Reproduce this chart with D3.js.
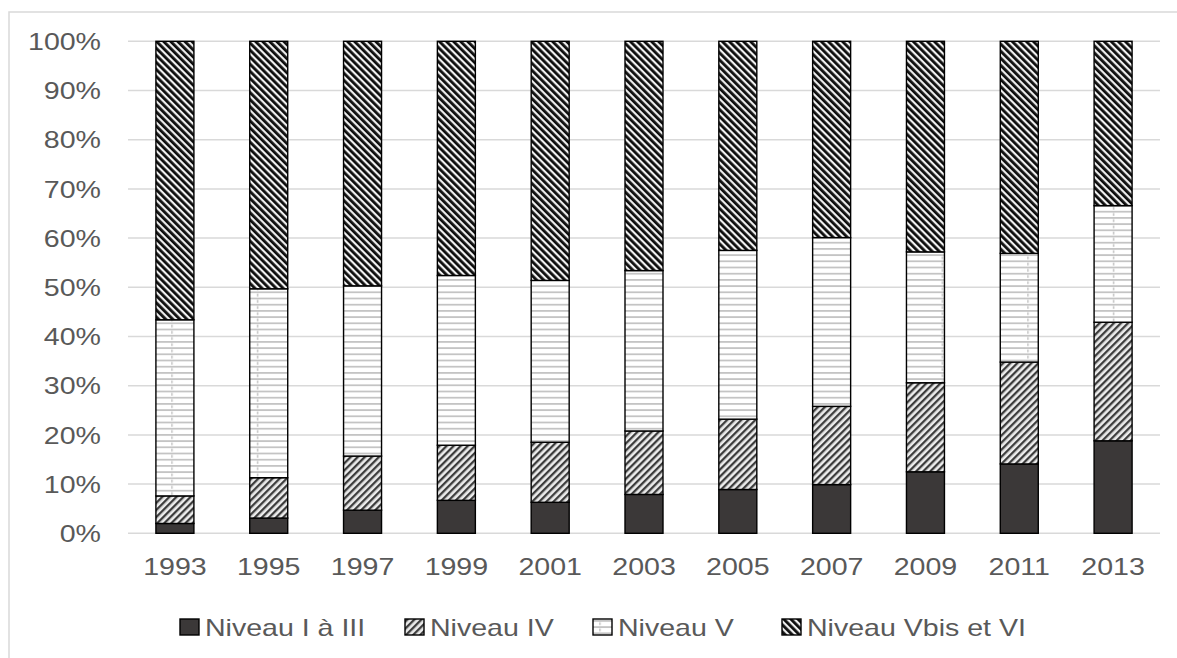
<!DOCTYPE html>
<html>
<head>
<meta charset="utf-8">
<script src="https://cdn.jsdelivr.net/npm/d3@7"></script>
<style>
  body { margin: 0; background: #fff; }
  text { font-family: Arial, "Liberation Sans", sans-serif; fill: #595959; }
</style>
</head>
<body>
<svg id="chart" width="1177" height="658"></svg>
<script>
// data (% of each year)
const years = ["1993", "1995", "1997", "1999", "2001", "2003", "2005", "2007", "2009", "2011", "2013"];
const niveauI_III = [2.0, 3.1, 4.7, 6.7, 6.3, 7.9, 8.9, 9.9, 12.5, 14.1, 18.8];
const niveauIV = [5.6, 8.2, 11.0, 11.2, 12.2, 12.9, 14.3, 15.9, 18.1, 20.7, 24.1];
const niveauV = [35.8, 38.4, 34.6, 34.5, 32.9, 32.6, 34.3, 34.3, 26.6, 22.1, 23.7];
const niveauVbisVI = [56.6, 50.3, 49.7, 47.6, 48.6, 46.6, 42.5, 39.9, 42.8, 43.1, 33.4];
const seriesNames = ["Niveau I à III", "Niveau IV", "Niveau V", "Niveau Vbis et VI"];
const yTicks = [0, 10, 20, 30, 40, 50, 60, 70, 80, 90, 100];

const svg = d3.select('#chart');
const stretch = 1.19; // the picture's text is a bit wider than tall

const keys = ["a", "b", "c", "d"];
const rows = years.map((y, i) => ({
    year: y, a: niveauI_III[i], b: niveauIV[i], c: niveauV[i], d: niveauVbisVI[i]
}));
const stacked = d3.stack().keys(keys)(rows);

const x = d3.scaleBand().domain(years).range([128, 1160])
    .paddingInner(0.595).paddingOuter(0.2975);
const y = d3.scaleLinear().domain([0, 100]).range([533.3, 41.3]);

// patterns
const defs = svg.append('defs');

const pIV = defs.append('pattern').attr('id', 'pIV')
    .attr('patternUnits', 'userSpaceOnUse')
    .attr('width', 5).attr('height', 5)
    .attr('patternTransform', 'rotate(45)');
pIV.append('rect').attr('width', 5).attr('height', 5).attr('fill', '#ececec');
pIV.append('rect').attr('width', 2.3).attr('height', 5).attr('fill', '#3c3c3c');

const pVI = defs.append('pattern').attr('id', 'pVI')
    .attr('patternUnits', 'userSpaceOnUse')
    .attr('width', 5).attr('height', 5)
    .attr('patternTransform', 'rotate(-45)');
pVI.append('rect').attr('width', 5).attr('height', 5).attr('fill', '#f0f0f0');
pVI.append('rect').attr('width', 2.8).attr('height', 5).attr('fill', '#0d0d0d');

const pV = defs.append('pattern').attr('id', 'pV')
    .attr('patternUnits', 'userSpaceOnUse')
    .attr('x', 0).attr('y', 0)
    .attr('width', 85.6).attr('height', 6.2);
pV.append('rect').attr('width', 85.6).attr('height', 6.2).attr('fill', '#fff');
pV.append('rect').attr('y', 0).attr('width', 85.6).attr('height', 1.8).attr('fill', '#c4c4c4');
pV.append('rect').attr('x', 0).attr('y', 2.3).attr('width', 1.5).attr('height', 2.8).attr('fill', '#c4c4c4');

const fills = ['#3b3838', 'url(#pIV)', 'url(#pV)', 'url(#pVI)'];

// frame
svg.append('path')
    .attr('d', 'M9,658 V12 H1177')
    .attr('fill', 'none')
    .attr('stroke', '#d9d9d9')
    .attr('stroke-width', 1.5);

// gridlines
svg.append('g')
    .selectAll('line')
    .data(yTicks)
    .enter()
    .append('line')
    .attr('x1', 128).attr('x2', 1160)
    .attr('y1', d => y(d)).attr('y2', d => y(d))
    .attr('stroke', '#d9d9d9')
    .attr('stroke-width', 1.5);

function stretchedText(parent, tx, ty, str, anchor) {
    parent.append('g')
        .attr('transform', `translate(${tx},${ty})`)
        .append('text')
        .attr('transform', `scale(${stretch},1)`)
        .attr('text-anchor', anchor)
        .attr('font-size', 24)
        .text(str);
}

// y labels
const yLab = svg.append('g');
yTicks.forEach(t => stretchedText(yLab, 101, y(t) + 8.6, t + '%', 'end'));

// x labels
const xLab = svg.append('g');
years.forEach(yr => stretchedText(xLab, x(yr) + x.bandwidth() / 2, 574.5, yr, 'middle'));

// bars
svg.append('g')
    .selectAll('g')
    .data(stacked)
    .enter()
    .append('g')
    .attr('fill', (d, i) => fills[i])
    .selectAll('rect')
    .data(d => d)
    .enter()
    .append('rect')
    .attr('x', d => x(d.data.year))
    .attr('width', x.bandwidth())
    .attr('y', d => y(d[1]))
    .attr('height', d => y(d[0]) - y(d[1]))
    .attr('stroke', '#000')
    .attr('stroke-width', 1.4);

// legend
const legX = [180, 405, 593, 782];
const leg = svg.append('g');
seriesNames.forEach((name, i) => {
    leg.append('rect')
        .attr('x', legX[i]).attr('y', 619)
        .attr('width', 19).attr('height', 16)
        .attr('fill', fills[i])
        .attr('stroke', '#000')
        .attr('stroke-width', 1.4);
    stretchedText(leg, legX[i] + 25, 636, name, 'start');
});
</script>
</body>
</html>
